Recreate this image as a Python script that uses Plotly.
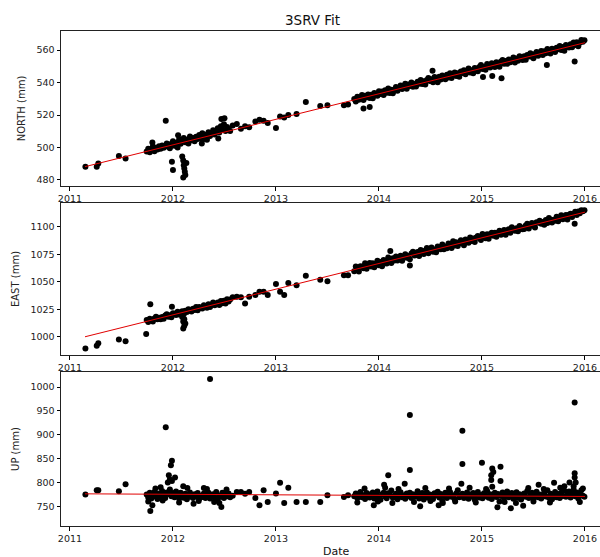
import plotly.graph_objects as go

# ---------------- data (decimal years / mm) ----------------
dates_early = [2011.15, 2011.26, 2011.275, 2011.475, 2011.54]
dates_dense1 = [2011.745, 2011.760, 2011.775, 2011.790, 2011.805, 2011.820, 2011.835, 2011.850,
                2011.865, 2011.880, 2011.895, 2011.910, 2011.925, 2011.940, 2011.955, 2011.970,
                2011.985, 2012.000, 2012.015, 2012.030, 2012.045, 2012.060, 2012.075, 2012.090,
                2012.105, 2012.120, 2012.135, 2012.150, 2012.165, 2012.180, 2012.195, 2012.210,
                2012.225, 2012.240, 2012.255, 2012.270, 2012.285, 2012.300, 2012.315, 2012.330,
                2012.345, 2012.360, 2012.375, 2012.390, 2012.405, 2012.420, 2012.435, 2012.450,
                2012.465, 2012.480, 2012.495, 2012.510, 2012.525, 2012.540, 2012.555]
dates_mid = [2012.58, 2012.62, 2012.66, 2012.70, 2012.74, 2012.80, 2012.84, 2012.88, 2012.92,
             2013.00, 2013.04, 2013.08, 2013.12, 2013.20, 2013.29, 2013.43, 2013.50, 2013.66, 2013.70]
dates_dense2 = [2013.760, 2013.775, 2013.790, 2013.805, 2013.820, 2013.835, 2013.850, 2013.865,
                2013.880, 2013.895, 2013.910, 2013.925, 2013.940, 2013.955, 2013.970, 2013.985,
                2014.000, 2014.015, 2014.030, 2014.045, 2014.060, 2014.075, 2014.090, 2014.105,
                2014.120, 2014.135, 2014.150, 2014.165, 2014.180, 2014.195, 2014.210, 2014.225,
                2014.240, 2014.255, 2014.270, 2014.285, 2014.300, 2014.315, 2014.330, 2014.345,
                2014.360, 2014.375, 2014.390, 2014.405, 2014.420, 2014.435, 2014.450, 2014.465,
                2014.480, 2014.495, 2014.510, 2014.525, 2014.540, 2014.555, 2014.570, 2014.585,
                2014.600, 2014.615, 2014.630, 2014.645, 2014.660, 2014.675, 2014.690, 2014.705,
                2014.720, 2014.735, 2014.750, 2014.765, 2014.780, 2014.795, 2014.810, 2014.825,
                2014.840, 2014.855, 2014.870, 2014.885, 2014.900, 2014.915, 2014.930, 2014.945,
                2014.960, 2014.975, 2014.990, 2015.005, 2015.020, 2015.035, 2015.050, 2015.065,
                2015.080, 2015.095, 2015.110, 2015.125, 2015.140, 2015.155, 2015.170, 2015.185,
                2015.200, 2015.215, 2015.230, 2015.245, 2015.260, 2015.275, 2015.290, 2015.305,
                2015.320, 2015.335, 2015.350, 2015.365, 2015.380, 2015.395, 2015.410, 2015.425,
                2015.440, 2015.455, 2015.470, 2015.485, 2015.500, 2015.515, 2015.530, 2015.545,
                2015.560, 2015.575, 2015.590, 2015.605, 2015.620, 2015.635, 2015.650, 2015.665,
                2015.680, 2015.695, 2015.710, 2015.725, 2015.740, 2015.755, 2015.770, 2015.785,
                2015.800, 2015.815, 2015.830, 2015.845, 2015.860, 2015.875, 2015.890, 2015.905,
                2015.920, 2015.935, 2015.950, 2015.965, 2015.980, 2015.995]

north_early = [488.2, 488.2, 490.2, 494.8, 493.3]
north_dense1 = [497.6, 499.3, 497.0, 499.0, 500.6, 497.7, 499.9, 498.8, 500.7, 499.3,
                501.2, 499.8, 500.8, 502.4, 500.4, 499.6, 502.3,
                503.9, 501.0, 502.9, 500.0, 504.9, 502.3, 503.6, 505.8, 503.2, 504.8,
                502.5, 506.8, 504.5, 505.8, 503.8, 506.6, 505.2, 507.7, 505.6, 508.7,
                505.2, 507.8, 504.8, 509.4, 507.1, 508.7, 510.6, 508.0, 510.2, 511.8,
                509.2, 513.1, 511.2, 514.3, 510.2, 512.6, 511.2, 510.2]
north_mid = [513.5, 514.5, 511.5, 513.0, 512.5, 516.0, 517.0, 516.5, 515.0,
             512.0, 519.0, 518.5, 520.0, 520.6, 528.0, 525.5, 526.0, 526.0, 526.5]
north_dense2 = [529.9, 528.3, 531.3, 529.4, 530.5, 532.3, 529.2, 531.9, 530.9, 532.6,
                530.5, 532.5, 530.3, 533.6, 532.6, 531.9, 534.6, 533.0, 534.5, 532.3,
                535.2, 533.7, 536.3, 533.5, 535.6, 533.4, 535.7, 537.2, 535.0, 536.7,
                538.2, 536.0, 537.8, 539.3, 536.1, 538.8, 537.8, 540.0, 537.4, 539.1,
                537.5, 540.5, 539.2, 541.5, 539.1, 540.8, 538.7, 541.6, 542.8, 540.9,
                542.0, 540.1, 543.4, 541.8, 540.2, 543.5, 541.9, 544.3, 543.3, 542.0,
                544.7, 543.1, 545.7, 542.7, 544.7, 546.1, 544.0, 545.7, 543.6, 546.8,
                545.8, 547.6, 545.1, 547.1, 548.6, 546.1, 547.5, 545.7, 548.9, 548.5,
                547.0, 549.6, 550.7, 548.3, 549.7, 547.9, 551.4, 549.8, 549.2, 551.8,
                551.1, 549.6, 552.5, 551.3, 549.7, 552.9, 553.8, 551.6, 553.3, 551.5,
                554.1, 552.5, 553.7, 555.4, 552.3, 554.7, 553.4, 556.1, 554.8, 553.8,
                556.2, 554.0, 556.9, 556.0, 558.0, 555.8, 554.9, 557.5, 558.7, 556.5,
                557.6, 559.4, 556.9, 559.2, 558.0, 560.6, 559.3, 557.8, 560.7, 560.3,
                558.8, 561.4, 560.5, 562.5, 560.0, 561.8, 559.6, 563.1, 562.2, 561.5,
                563.5, 561.7, 564.6, 563.1, 564.8, 562.3, 564.4, 566.2, 565.1, 566.0]
north_out_t = [2011.93, 2011.99, 2012.00, 2012.09, 2012.10, 2012.105, 2012.11, 2012.115, 2012.12,
               2012.10, 2012.13, 2012.47, 2012.50, 2012.44, 2011.80, 2012.05, 2012.28,
               2013.85, 2013.91, 2014.52, 2015.01, 2015.10, 2015.19, 2015.63, 2015.90]
north_out_v = [516.5, 491.3, 486.2, 494.5, 492.0, 489.0, 487.0, 485.0, 483.0,
               481.5, 490.5, 517.5, 518.0, 505.5, 503.0, 507.5, 502.5,
               524.0, 525.0, 547.3, 543.4, 544.0, 542.6, 550.8, 553.0]

east_early = [989.4, 991.8, 994.0, 997.6, 996.0]
east_dense1 = [1015.2, 1013.5, 1016.5, 1015.1, 1013.9, 1016.7, 1018.2, 1015.9, 1017.4, 1016.0,
               1018.1, 1016.4, 1019.4, 1020.4, 1018.3, 1019.6, 1017.8, 1021.5, 1020.9, 1019.8,
               1022.8, 1020.2, 1022.0, 1023.3, 1020.6, 1023.7, 1022.5, 1025.0, 1023.8, 1023.0,
               1025.4, 1024.3, 1027.0, 1024.1, 1027.1, 1026.3, 1025.7, 1028.8, 1027.9, 1026.5,
               1029.5, 1027.2, 1029.3, 1031.2, 1028.8, 1029.8, 1031.3, 1029.0, 1032.6, 1030.6,
               1032.8, 1030.4, 1034.1, 1032.0, 1033.9]
east_mid = [1036.0, 1036.4, 1036.0, 1030.4, 1036.5, 1038.0, 1041.0, 1041.0, 1038.0,
            1048.0, 1041.0, 1038.0, 1049.0, 1047.0, 1055.5, 1052.0, 1050.6, 1056.0, 1056.0]
east_dense2 = [1059.6, 1064.0, 1061.9, 1059.5, 1064.2, 1063.8, 1062.5, 1066.9, 1062.0, 1065.6,
               1067.1, 1063.9, 1067.0, 1063.4, 1066.5, 1069.3, 1065.2, 1068.0, 1064.3, 1069.9,
               1068.2, 1066.6, 1072.1, 1070.1, 1067.2, 1071.6, 1069.5, 1073.1, 1069.4, 1071.8,
               1073.7, 1069.3, 1073.2, 1075.2, 1071.9, 1073.5, 1070.6, 1075.8, 1077.3, 1074.1,
               1074.4, 1077.2, 1073.5, 1079.1, 1077.0, 1075.4, 1078.6, 1080.9, 1076.1, 1079.2,
               1081.2, 1077.5, 1079.5, 1077.0, 1082.2, 1081.3, 1079.7, 1084.0, 1079.6, 1082.3,
               1080.7, 1085.0, 1083.8, 1080.9, 1086.9, 1083.2, 1086.0, 1082.7, 1085.1, 1087.8,
               1086.6, 1083.3, 1088.5, 1086.8, 1085.6, 1090.3, 1087.1, 1089.4, 1086.2, 1090.5,
               1091.7, 1089.6, 1088.0, 1093.5, 1091.5, 1089.8, 1093.4, 1089.3, 1093.3, 1094.8,
               1092.0, 1094.7, 1091.1, 1094.6, 1096.6, 1093.0, 1095.3, 1097.3, 1092.8, 1096.8,
               1097.9, 1094.7, 1099.8, 1097.4, 1096.5, 1098.9, 1096.0, 1100.8, 1099.5, 1097.9,
               1098.2, 1101.4, 1102.9, 1098.5, 1101.2, 1103.6, 1101.1, 1099.5, 1104.2, 1103.8,
               1105.7, 1102.9, 1104.4, 1102.0, 1106.3, 1103.5, 1108.2, 1106.6, 1104.1, 1106.5,
               1105.6, 1109.2, 1105.1, 1108.7, 1110.6, 1107.0, 1108.9, 1110.9, 1106.8, 1111.2,
               1111.9, 1109.1, 1111.8, 1113.8, 1110.9, 1114.1, 1112.5, 1115.2, 1114.4, 1115.1]
east_out_t = [2011.78, 2011.74, 2011.99, 2012.09, 2012.10, 2012.11, 2012.10, 2012.12, 2012.11,
              2014.11, 2014.30, 2015.90]
east_out_v = [1029.7, 1002.5, 1027.3, 1018.0, 1014.0, 1010.0, 1007.5, 1012.0, 1016.0,
              1078.0, 1065.0, 1103.0]

up_early = [774.6, 783.7, 783.7, 781.6, 796.0]
up_dense1 = [774.5, 768.5, 778, 766, 772, 780, 770, 765, 776.5, 771,
             782, 773.5, 767.5, 779, 775.5, 785, 771, 777.5, 769, 781,
             773.5, 766, 778.5, 771.5, 768, 776, 764.5, 773, 779, 770,
             767, 775, 771, 777.5, 765.5, 772, 769.5, 776.5, 767.5, 773.5,
             778.5, 766, 771, 775, 768.5, 780, 765, 772.5, 770, 778,
             767, 774, 771, 776.5, 769]
up_mid = [772, 780, 780, 776, 780, 767, 752, 783.7, 759,
          776.7, 799, 757, 788.5, 759, 759, 759, 773, 769.6, 773]
up_dense2 = [771, 776.5, 767, 774, 780, 769, 773, 765, 777.5, 771.5,
             768.5, 775.5, 779, 766, 772.5, 781, 770, 763.5, 774.5, 778,
             770.5, 766.5, 777, 773.5, 783, 768, 772, 776, 764.5, 774,
             779.5, 769, 772.5, 765.5, 776.5, 771, 778.5, 767.5, 775, 770,
             773.5, 781.5, 766, 772, 777.5, 764, 770.5, 779, 768, 774.5,
             771, 765, 777, 773, 780.5, 768.5, 775.5, 761, 771.5, 778,
             767, 774, 780, 770, 772.5, 764.5, 776.5, 783.5, 769, 773,
             776, 767.5, 771.5, 779, 765.5, 774.5, 770.5, 777.5, 763.5, 772,
             780, 768.5, 773.5, 766.5, 777, 771, 782, 768, 775, 765,
             772.5, 778.5, 769.5, 775.5, 760, 771.5, 779, 767, 774, 781,
             769, 773, 777.5, 765.5, 771, 779.5, 768, 775, 764, 772,
             776.5, 770, 782, 767.5, 773.5, 778, 765, 771.5, 780.5, 769,
             774.5, 766, 772.5, 779, 770.5, 783.5, 768, 776, 764.5, 773,
             780, 769, 775.5, 767, 778, 771.5, 782.5, 770, 774, 781,
             768.5, 777, 785, 771, 779, 766, 774.5, 783.5, 772, 770]
up_out_t = [2011.93, 2012.36, 2011.99, 2011.98, 2011.96, 2011.97, 2011.99, 2011.95, 2012.02,
            2011.78, 2012.47, 2011.80, 2012.20, 2012.45, 2011.88, 2012.10, 2012.30,
            2014.30, 2014.30, 2014.09, 2014.81, 2014.81, 2015.00, 2015.10,
            2015.18, 2015.09, 2015.09, 2015.18, 2015.10, 2015.11, 2015.90, 2015.90, 2015.90,
            2015.91, 2015.89, 2013.95, 2014.05, 2014.25, 2014.40, 2014.58, 2014.80, 2015.15,
            2015.28, 2015.40, 2015.55, 2015.70, 2015.85]
up_out_v = [915.7, 1016.7, 845.4, 836, 815, 806, 803, 800, 810,
            740, 748.5, 752, 755, 757, 790, 792, 788,
            941.6, 825.8, 815, 908.5, 838.4, 841, 829,
            832.7, 815, 805, 803, 790.6, 822, 967.5, 819, 810,
            800, 792, 752, 795, 797, 750, 752, 797, 748,
            746, 751, 795, 799, 800]
# extra readings along the ragged edges of the UP band
up_edge_t = [2011.76, 2011.83, 2011.90, 2012.06, 2012.14, 2012.25, 2012.33, 2012.40, 2012.52,
             2013.79, 2013.86, 2013.99, 2014.06, 2014.13, 2014.19, 2014.34, 2014.45, 2014.50,
             2014.62, 2014.68, 2014.74, 2014.88, 2014.94, 2015.04, 2015.22, 2015.33, 2015.45,
             2015.50, 2015.60, 2015.66, 2015.76, 2015.80, 2015.95, 2015.98]
up_edge_v = [760, 787, 762, 758, 788, 761, 786, 759, 785,
             758, 787, 760, 789, 757, 786, 759, 788, 761,
             757, 787, 760, 789, 758, 786, 759, 757, 788,
             760, 786, 758, 789, 792, 759, 787]

fit_t = [2011.146, 2016.0]
north_fit = [488.2, 564.5]
east_fit = [1000.0, 1113.5]
up_fit = [776.0, 770.5]

year_ticks = [2011, 2012, 2013, 2014, 2015, 2016]
north_ticks = [480, 500, 520, 540, 560]
east_ticks = [1000, 1025, 1050, 1075, 1100]
up_ticks = [750, 800, 850, 900, 950, 1000]

# ---------------- build ----------------
all_dates = dates_early + dates_dense1 + dates_mid + dates_dense2
panels = [
    ("y", north_early + north_dense1 + north_mid + north_dense2, north_out_t, north_out_v, north_fit),
    ("y2", east_early + east_dense1 + east_mid + east_dense2, east_out_t, east_out_v, east_fit),
    ("y3", up_early + up_dense1 + up_mid + up_dense2, up_out_t + up_edge_t, up_out_v + up_edge_v, up_fit),
]

fig = go.Figure()
for i, (ya, vals, ot, ov, fit) in enumerate(panels):
    xa = "x" if i == 0 else "x%d" % (i + 1)
    n = min(len(all_dates), len(vals))
    m = min(len(ot), len(ov))
    fig.add_trace(go.Scatter(x=all_dates[:n] + ot[:m], y=vals[:n] + ov[:m], mode="markers",
                             marker=dict(color="black", size=6, line=dict(width=0)),
                             xaxis=xa, yaxis=ya, hoverinfo="skip"))
    fig.add_trace(go.Scatter(x=fit_t, y=fit, mode="lines", line=dict(color="#e00000", width=1),
                             xaxis=xa, yaxis=ya, hoverinfo="skip"))

font_fam = "DejaVu Sans"
xcommon = dict(range=[2010.913, 2016.146], tickvals=year_ticks, ticktext=[str(y) for y in year_ticks],
               ticks="outside", ticklen=3.5, tickwidth=0.8, tickcolor="black",
               showline=True, linecolor="#222222", linewidth=1, mirror=True,
               showgrid=False, zeroline=False, tickfont=dict(size=9.5, family=font_fam, color="#222"))
ycommon = dict(ticks="outside", ticklen=3.5, tickwidth=0.8, tickcolor="black",
               showline=True, linecolor="#222222", linewidth=1, mirror=False,
               showgrid=False, zeroline=False, tickfont=dict(size=9.5, family=font_fam, color="#222"))

# plot area 31..526 px tall (495 px)
dom_top = [(526 - 186) / 495, 1.0]
dom_mid = [(526 - 355) / 495, (526 - 203) / 495]
dom_bot = [0.0, (526 - 372) / 495]

fig.update_layout(
    width=600, height=557,
    margin=dict(l=61, r=0, t=31, b=31),
    plot_bgcolor="white", paper_bgcolor="white",
    showlegend=False,
    font=dict(family=font_fam, size=9.5, color="#222"),
    xaxis=dict(xcommon, anchor="y", domain=[0, 1]),
    xaxis2=dict(xcommon, anchor="y2", domain=[0, 1]),
    xaxis3=dict(xcommon, anchor="y3", domain=[0, 1]),
    yaxis=dict(ycommon, anchor="x", domain=dom_top, range=[476.3, 571.7], tickvals=north_ticks,
               title=dict(text="NORTH (mm)", font=dict(size=10, family=font_fam), standoff=8)),
    yaxis2=dict(ycommon, anchor="x2", domain=dom_mid, range=[983.4, 1121.8], tickvals=east_ticks,
                title=dict(text="EAST (mm)", font=dict(size=10, family=font_fam), standoff=8)),
    yaxis3=dict(ycommon, anchor="x3", domain=dom_bot, range=[708.5, 1031.6], tickvals=up_ticks,
                title=dict(text="UP (mm)", font=dict(size=10, family=font_fam), standoff=8)),
    annotations=[
        dict(text="3SRV Fit", x=(312 - 61) / 539, y=(526 - 20) / 495, xref="paper", yref="paper",
             xanchor="center", yanchor="middle", showarrow=False,
             font=dict(size=13.5, family=font_fam, color="#111")),
        dict(text="Date", x=(336 - 61) / 539, y=(526 - 551) / 495, xref="paper", yref="paper",
             xanchor="center", yanchor="middle", showarrow=False,
             font=dict(size=11, family=font_fam, color="#111")),
    ],
)

fig.write_html("out.html", config={"displayModeBar": False},
               post_script="document.body.style.margin='0';document.body.style.overflow='hidden';")
